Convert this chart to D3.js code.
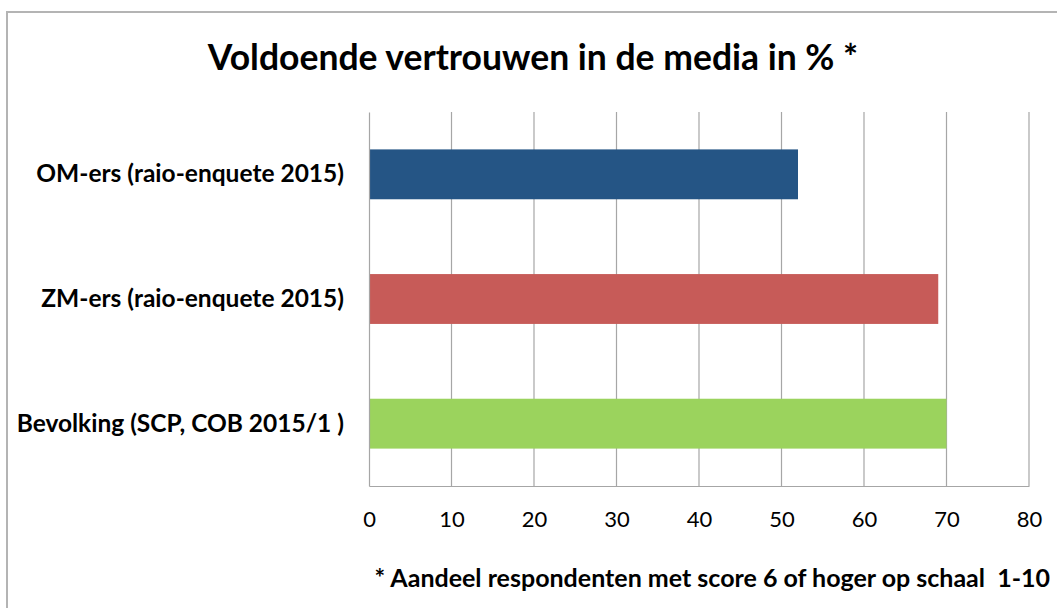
<!DOCTYPE html>
<html>
<head>
<meta charset="utf-8">
<script src="https://cdn.jsdelivr.net/npm/d3@7"></script>
<style>
  body { margin: 0; background: #fff; }
  svg text { font-family: Lato, "Open Sans", sans-serif; fill: #000; white-space: pre; }
</style>
</head>
<body>
<svg id="chart" width="1057" height="608"></svg>
<script>
// Data
const categories = [
  'OM-ers (raio-enquete 2015)',
  'ZM-ers (raio-enquete 2015)',
  'Bevolking (SCP, COB 2015/1 )'
];
const values = [52, 69, 70];
const barColors = ['#255585', '#c75b58', '#9bd35d'];
const xTicks = [0, 10, 20, 30, 40, 50, 60, 70, 80];
const title = 'Voldoende vertrouwen in de media in % *';
const footnote = '* Aandeel respondenten met score 6 of hoger op schaal  1-10';

const svg = d3.select('#chart');

// Plot area
const margin = { top: 112, right: 28, bottom: 122, left: 369 };
const width  = 1057 - margin.left - margin.right;
const height = 608 - margin.top - margin.bottom;

// chart frame
svg.append('rect')
  .attr('x', 7).attr('y', 12)
  .attr('width', 1070).attr('height', 620)
  .attr('fill', 'none')
  .attr('stroke', '#b4b4b4')
  .attr('stroke-width', 2);

svg.append('text')
  .attr('x', 533).attr('y', 70)
  .attr('text-anchor', 'middle')
  .attr('font-size', 35.5)
  .attr('font-weight', 'bold')
  .text(title);

const g = svg.append('g')
  .attr('transform', `translate(${margin.left},${margin.top})`);

const x = d3.scaleLinear()
  .domain([0, 80])
  .range([0, width]);

const y = d3.scaleBand()
  .domain(categories)
  .range([0, height])
  .paddingInner(0.6)
  .paddingOuter(0.3);

// vertical gridlines
g.selectAll('.grid')
  .data(xTicks.slice(1))
  .enter().append('line')
  .attr('class', 'grid')
  .attr('x1', d => x(d)).attr('x2', d => x(d))
  .attr('y1', 0).attr('y2', height)
  .attr('stroke', '#a6a6a6')
  .attr('stroke-width', 1.2);

// bars
g.selectAll('.bar')
  .data(values)
  .enter().append('rect')
  .attr('class', 'bar')
  .attr('x', 0)
  .attr('y', (d, i) => y(categories[i]))
  .attr('width', d => x(d))
  .attr('height', y.bandwidth())
  .attr('fill', (d, i) => barColors[i]);

// x axis
const xAxis = g.append('g')
  .attr('transform', `translate(0,${height})`)
  .call(d3.axisBottom(x).tickValues(xTicks).tickSize(0).tickPadding(25));
xAxis.select('.domain').attr('stroke', '#a6a6a6').attr('stroke-width', 1.2);
xAxis.selectAll('text')
  .attr('font-size', 22)
  .style('font-family', 'Lato, sans-serif');

// y axis
const yAxis = g.append('g')
  .call(d3.axisLeft(y).tickSize(0).tickPadding(25));
yAxis.select('.domain').attr('stroke', '#a6a6a6').attr('stroke-width', 1.2);
yAxis.selectAll('text')
  .attr('font-size', 24.5)
  .attr('font-weight', 'bold')
  .style('font-family', 'Lato, sans-serif');

svg.append('text')
  .attr('x', 1050).attr('y', 587)
  .attr('text-anchor', 'end')
  .attr('font-size', 25)
  .attr('font-weight', 'bold')
  .text(footnote);
</script>
</body>
</html>
